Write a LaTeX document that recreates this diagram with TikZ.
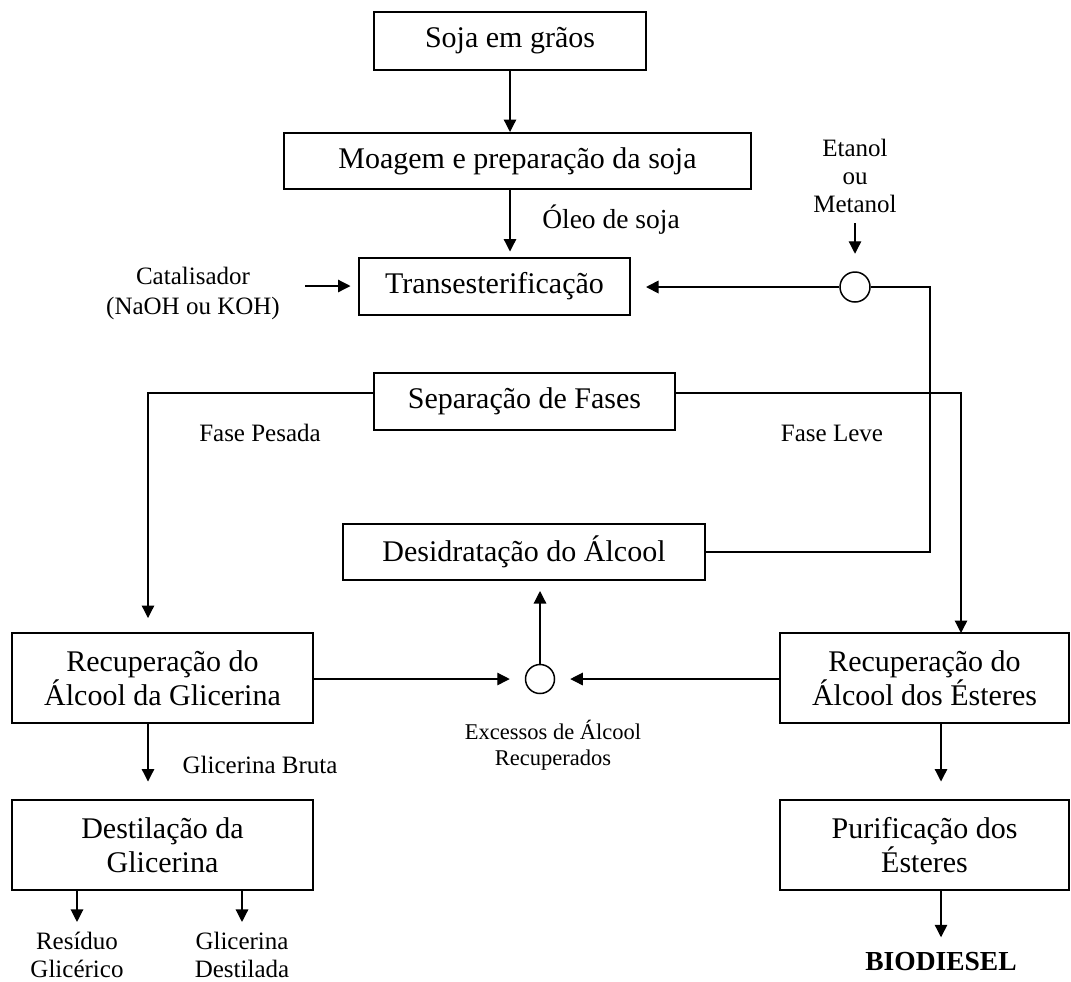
\documentclass[tikz,border=0pt]{standalone}
\usepackage{fontspec}
\setmainfont{Liberation Serif}
\usetikzlibrary{arrows.meta}
\newcommand{\grande}{\fontsize{12}{13.5}\selectfont}
\newcommand{\pequeno}{\fontsize{10}{12}\selectfont}
\tikzset{
  caixa/.style={draw, line width=0.8pt, inner sep=0pt, align=center, font=\grande},
  rotulo/.style={inner sep=0pt, align=center, font=\pequeno},
  juncao/.style={draw, circle, line width=0.6pt, inner sep=0pt, minimum size=12pt},
  seta/.style={-{Triangle[length=5pt,width=5pt]}, line width=0.5pt}
}
\begin{document}
\begin{tikzpicture}[x=0.4pt,y=-0.4pt]
    \useasboundingbox (0,0) rectangle (1071,981);
    % caixas do processo
    \node[caixa, minimum width=108.8pt, minimum height=23.2pt] (soja) at (510,41) {Soja em grãos};
    \node[caixa, minimum width=186.8pt, minimum height=22.4pt] (moagem) at (517.5,161) {Moagem e preparação da soja};
    \node[caixa, minimum width=108.4pt, minimum height=22.8pt] (trans) at (494.5,286) {Transesterificação};
    \node[caixa, minimum width=120.4pt, minimum height=22.8pt] (sep) at (524.5,401.5) {Separação de Fases};
    \node[caixa, minimum width=144.8pt, minimum height=22.4pt] (desid) at (524,552) {Desidratação do Álcool};
    \node[caixa, minimum width=120.4pt, minimum height=36pt] (recG) at (162.5,678) {Recuperação do\\Álcool da Glicerina};
    \node[caixa, minimum width=115.6pt, minimum height=36pt] (recE) at (924.5,678) {Recuperação do\\Álcool dos Ésteres};
    \node[caixa, minimum width=120.4pt, minimum height=36pt] (destil) at (162.5,845) {Destilação da\\Glicerina};
    \node[caixa, minimum width=115.6pt, minimum height=36pt] (purif) at (924.5,845) {Purificação dos\\Ésteres};
    % juncoes
    \node[juncao] (etc) at (855,287) {};
    \node[juncao, minimum size=11.6pt] (alc) at (540,679) {};
    % rotulos
    \node[rotulo] (cat) at (193,293) {Catalisador\\(NaOH ou KOH)};
    \node[rotulo, font=\fontsize{10}{11.2}\selectfont] (eta) at (855,176) {Etanol\\ou\\Metanol};
    \node[rotulo, font=\fontsize{11}{13}\selectfont] at (611,220) {Óleo de soja};
    \node[rotulo] at (260,433) {Fase Pesada};
    \node[rotulo] at (832,433) {Fase Leve};
    \node[rotulo, font=\fontsize{9}{10.4}\selectfont] at (553,745) {Excessos de Álcool\\Recuperados};
    \node[rotulo] at (260,765) {Glicerina Bruta};
    \node[rotulo, font=\fontsize{10}{11}\selectfont] (res) at (77,955) {Resíduo\\Glicérico};
    \node[rotulo, font=\fontsize{10}{11}\selectfont] (dest) at (242,955) {Glicerina\\Destilada};
    \node[rotulo, font=\fontsize{11}{13}\bfseries] (bio) at (941,962) {BIODIESEL};
    \coordinate (ret) at (930,287);
    \coordinate (pesada) at (148,633);
    \coordinate (leve) at (961,633);
    % ligacoes
    \draw[seta] (soja.south) -- (soja |- moagem.north);
    \draw[seta, shorten >=2pt] (soja |- moagem.south) -- (soja |- trans.north);
    \draw[seta, shorten <=10pt, shorten >=3pt] (cat.east |- trans.west) -- (trans.west);
    \draw[seta, shorten <=4pt, shorten >=7pt] (eta.south) -- (etc.north);
    \draw[seta, line width=0.7pt, shorten >=6pt] (etc.west) -- (etc.west -| trans.east);
    \draw[line width=0.5pt] (desid.east) -| (ret) -- (etc.east);
    \draw[seta, shorten >=6pt] ([yshift=3.4pt]sep.west) -| (pesada);
    \draw[seta] ([yshift=3.4pt]sep.east) -| (leve);
    \draw[seta, shorten >=6pt] (recG.east |- alc) -- (alc.west);
    \draw[seta, shorten >=6pt] (recE.west |- alc) -- (alc.east);
    \draw[seta, shorten >=4pt] (alc.north) -- (alc |- desid.south);
    \draw[seta, shorten >=7pt] (pesada |- recG.south) -- (pesada |- destil.north);
    \draw[seta, shorten >=4pt] (destil.south -| res) -- (res.north);
    \draw[seta, shorten >=4pt] (destil.south -| dest) -- (dest.north);
    \draw[seta, shorten >=7pt] (bio |- recE.south) -- (bio |- purif.north);
    \draw[seta, shorten >=6pt] (bio |- purif.south) -- (bio.north);
\end{tikzpicture}
\end{document}
